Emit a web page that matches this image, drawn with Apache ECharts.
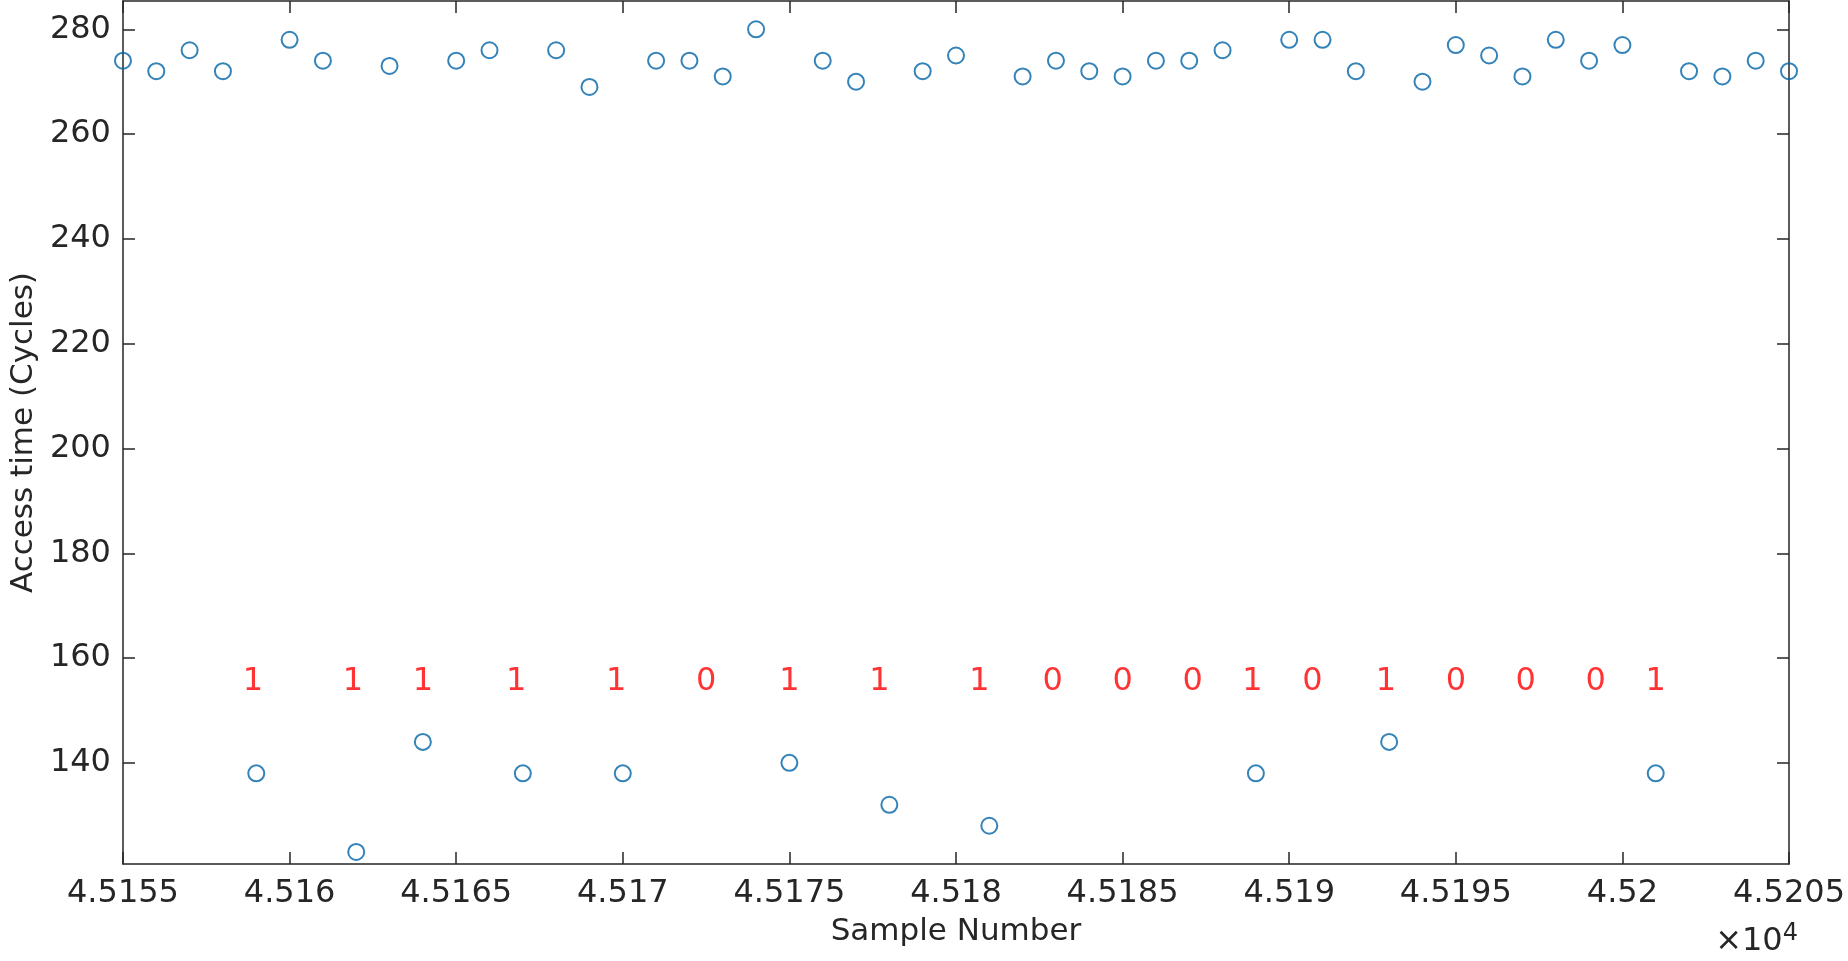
<!DOCTYPE html>
<html><head><meta charset="utf-8">
<script src="https://cdn.jsdelivr.net/npm/echarts@6/dist/echarts.min.js"></script>
<style>html,body{margin:0;background:#fff}#c{width:1848px;height:961px}</style>
</head><body><div id="c"></div>
<script>
const samples = [];
for (let s = 45155; s <= 45205; s++) samples.push(s);
const accessTimes = [274,272,276,272,138,278,274,123,273,144,274,276,138,276,269,138,274,274,271,280,140,274,270,132,272,275,128,271,274,272,271,274,274,276,138,278,278,272,144,270,277,275,271,278,274,277,138,272,271,274,272];
const bitX = [45158.9,45161.9,45164.0,45166.8,45169.8,45172.5,45175.0,45177.7,45180.7,45182.9,45185.0,45187.1,45188.9,45190.7,45192.9,45195.0,45197.1,45199.2,45201.0];
const bits = ['1','1','1','1','1','0','1','1','1','0','0','0','1','0','1','0','0','0','1'];
const bitY = 155.5;
const yTicks = [140,160,180,200,220,240,260,280];

const chart = echarts.init(document.getElementById('c'));
const font = 'DejaVu Sans';
const axLine = {lineStyle:{color:'#262626',width:1.5}};
const tick = {inside:true,length:12,lineStyle:{color:'#262626',width:1.5}};
chart.setOption({
  animation:false,
  grid:{left:113,right:55,top:1,bottom:97},
  xAxis:[{type:'value',min:45155,max:45205,interval:5,axisLine:axLine,axisTick:tick,splitLine:{show:false},
    axisLabel:{fontFamily:font,fontSize:32,color:'#262626',margin:14,formatter:v=>String(+(v/10000).toFixed(4))},
    name:'Sample Number',nameLocation:'middle',nameGap:52,nameTextStyle:{fontFamily:font,fontSize:31,color:'#262626'}},
    {type:'value',position:'top',min:45155,max:45205,interval:5,axisLine:axLine,axisTick:tick,axisLabel:{show:false},splitLine:{show:false}}],
  yAxis:[{type:'value',min:120.7,max:285.4,axisLine:axLine,splitLine:{show:false},
    axisLabel:{fontFamily:font,fontSize:32,color:'#262626',margin:12,customValues:yTicks},
    axisTick:Object.assign({customValues:yTicks},tick),
    name:'Access time (Cycles)',nameLocation:'middle',nameGap:78,nameTextStyle:{fontFamily:font,fontSize:31,color:'#262626'}},
    {type:'value',position:'right',min:120.7,max:285.4,axisLine:axLine,axisTick:Object.assign({customValues:yTicks},tick),axisLabel:{show:false},splitLine:{show:false}}],
  graphic:[{type:'text',right:50,top:922,style:{text:'×10{s|4}',rich:{s:{fontSize:24,verticalAlign:'top',fontFamily:font,fill:'#262626',padding:[0,0,16,0]}},fontFamily:font,fontSize:32,fill:'#262626'}}],
  series:[
    {type:'scatter',data:samples.map((s,i)=>[s,accessTimes[i]]),symbol:'circle',symbolSize:16,
     itemStyle:{color:'rgba(0,0,0,0)',borderColor:'#0064A8',borderWidth:2}},
    {type:'scatter',data:bitX.map((x,i)=>[x,bitY,bits[i]]),symbolSize:0,
     label:{show:true,position:'inside',formatter:p=>p.data[2],color:'#FF0000',fontFamily:font,fontSize:32}}
  ]
});
</script></body></html>
